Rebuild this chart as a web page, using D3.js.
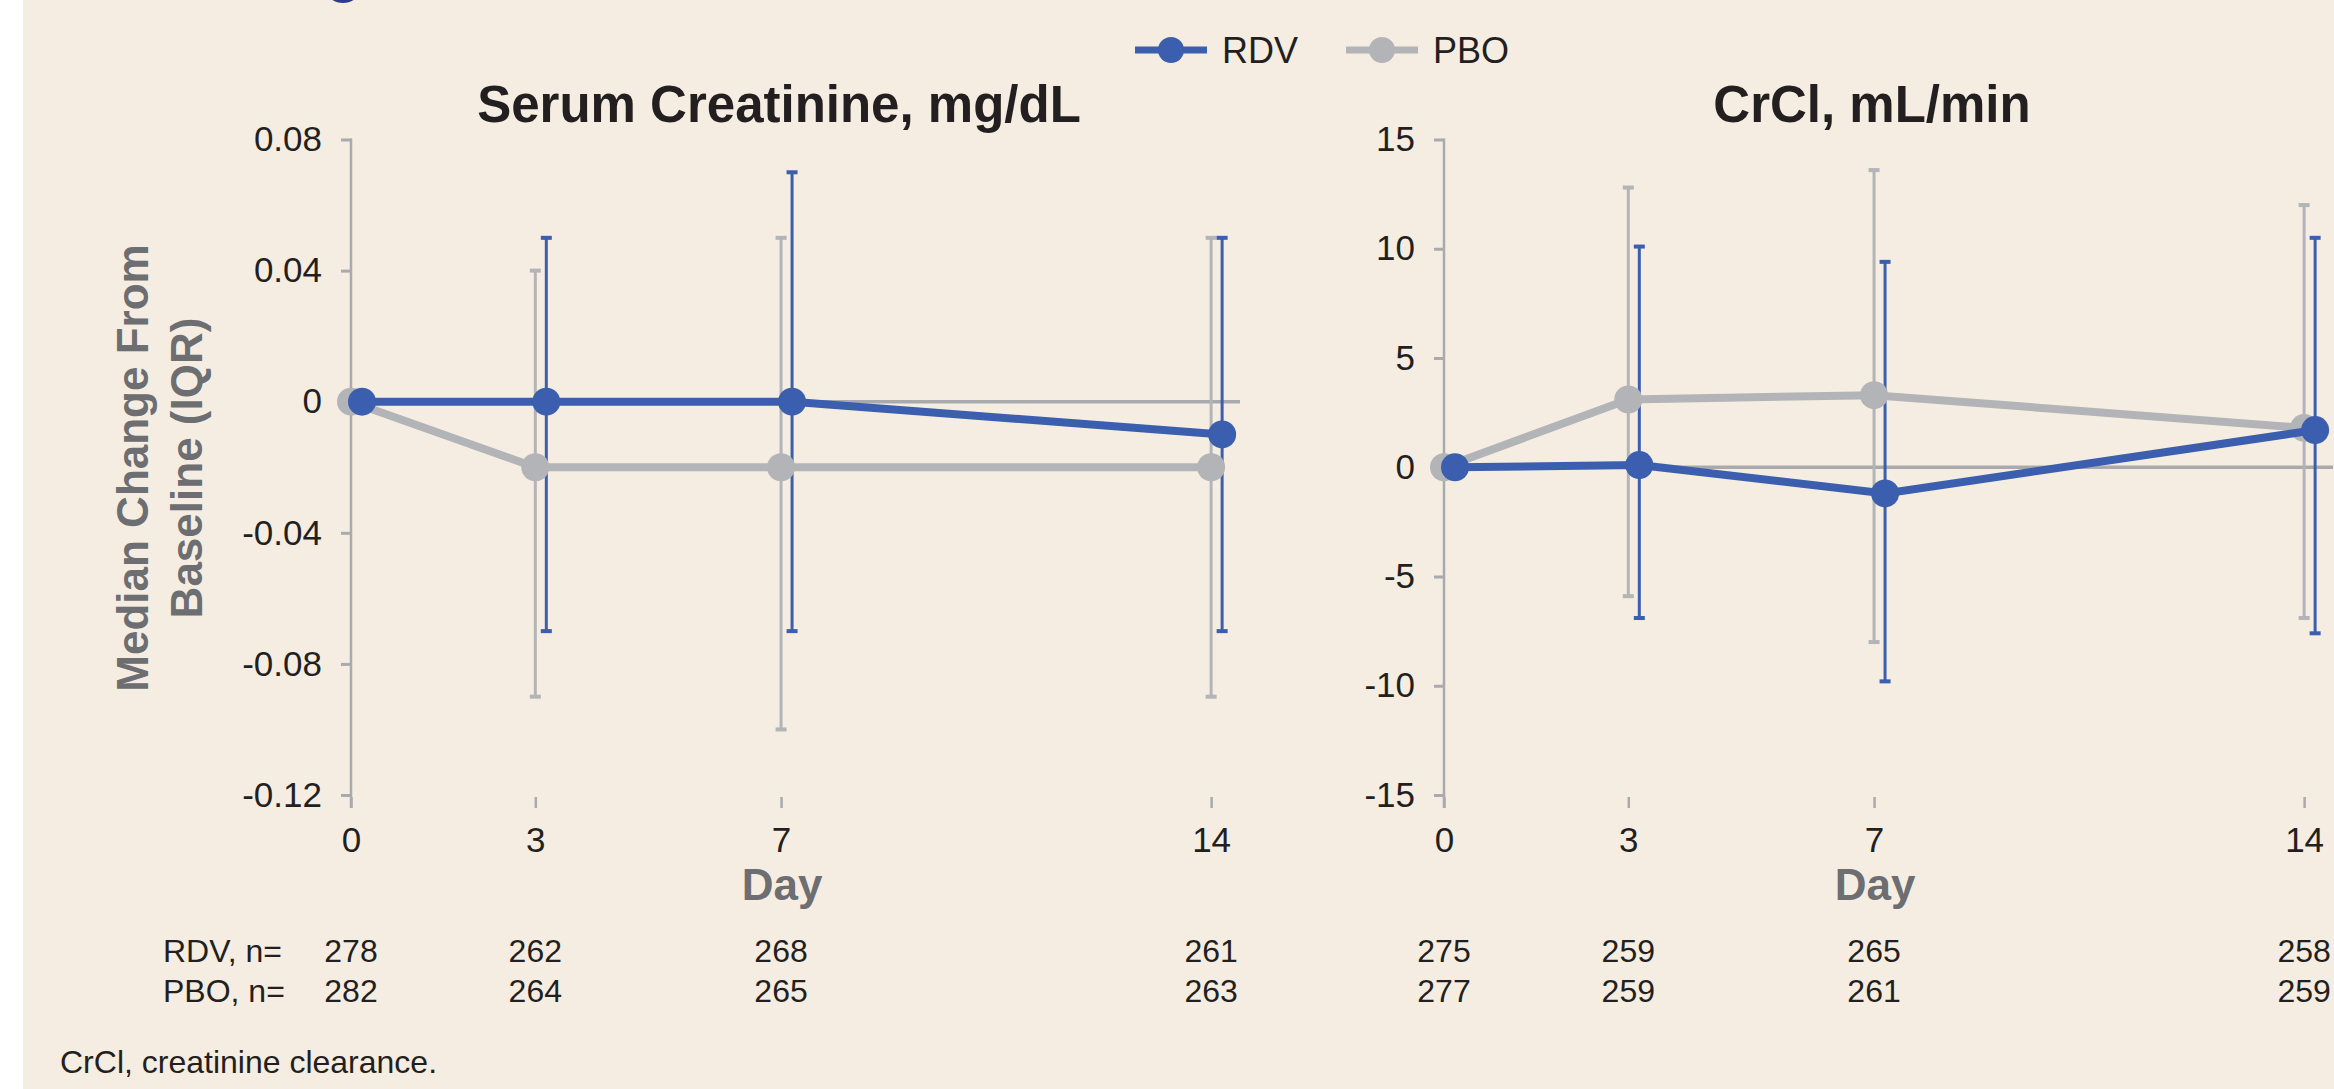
<!DOCTYPE html>
<html>
<head>
<meta charset="utf-8">
<script src="https://cdn.jsdelivr.net/npm/d3@7"></script>
<style>
  body { margin: 0; background: #fff; }
  svg { display: block; font-family: "Liberation Sans", Arial, sans-serif; }
</style>
</head>
<body>
<script>
// days on the x axis
var days = [0, 3, 7, 14];

// serum creatinine, median change and IQR (mg/dL)
var scrRdvMed = [0, 0, 0, -0.01];
var scrRdvQ1 = [0, -0.07, -0.07, -0.07];
var scrRdvQ3 = [0, 0.05, 0.07, 0.05];
var scrPboMed = [0, -0.02, -0.02, -0.02];
var scrPboQ1 = [0, -0.09, -0.10, -0.09];
var scrPboQ3 = [0, 0.04, 0.05, 0.05];

// creatinine clearance, median change and IQR (mL/min)
var crclRdvMed = [0, 0.1, -1.2, 1.7];
var crclRdvQ1 = [0, -6.9, -9.8, -7.6];
var crclRdvQ3 = [0, 10.1, 9.4, 10.5];
var crclPboMed = [0, 3.1, 3.3, 1.8];
var crclPboQ1 = [0, -5.9, -8.0, -6.9];
var crclPboQ3 = [0, 12.8, 13.6, 12.0];

// patients at each visit
var nRdvScr = [278, 262, 268, 261];
var nPboScr = [282, 264, 265, 263];
var nRdvCrcl = [275, 259, 265, 258];
var nPboCrcl = [277, 259, 261, 259];

var scrTicks = [-0.12, -0.08, -0.04, 0, 0.04, 0.08];
var crclTicks = [-15, -10, -5, 0, 5, 10, 15];

var BLUE = "#3b5fae", GREY = "#b3b4b7", AXIS = "#a9aaad", INK = "#231f20", LABEL = "#6d6e71";

var svg = d3.select("body").append("svg")
    .attr("width", 2334)
    .attr("height", 1089);

// slide background
svg.append("rect").attr("x", 23).attr("y", 0).attr("width", 2311).attr("height", 1089).attr("fill", "#f5ede1");
// bit of the cut-off heading above
svg.append("ellipse").attr("cx", 343).attr("cy", -7).attr("rx", 15).attr("ry", 10).attr("fill", "#2e3a8e");

function panel(left, title, yDomain, yTicks, fmt, rdv, pbo, nR, nP) {
    var x = d3.scaleLinear().domain([0, 14.47]).range([left, left + 889]);
    var y = d3.scaleLinear().domain(yDomain).range([795, 139.5]);
    var g = svg.append("g");

    g.append("text")
        .attr("x", left + 428).attr("y", 122)
        .attr("text-anchor", "middle")
        .attr("font-size", 51).attr("font-weight", "bold").attr("fill", INK)
        .text(title);

    // y axis
    var ya = g.append("g")
        .attr("transform", "translate(" + left + ",0)")
        .call(d3.axisLeft(y).tickValues(yTicks).tickSize(10).tickPadding(19).tickFormat(fmt));
    ya.select(".domain").remove();
    ya.selectAll("line").attr("stroke", AXIS).attr("stroke-width", 3);
    ya.selectAll("text").attr("font-size", 35).attr("fill", INK).attr("font-family", null);
    g.append("line")
        .attr("x1", left).attr("x2", left).attr("y1", y(yDomain[1]) - 1).attr("y2", 808)
        .attr("stroke", AXIS).attr("stroke-width", 2.5);

    // x axis, ticks only
    var xa = g.append("g")
        .attr("transform", "translate(0,797)")
        .call(d3.axisBottom(x).tickValues(days).tickSize(11).tickPadding(19).tickFormat(d3.format("d")));
    xa.select(".domain").remove();
    xa.selectAll("line").attr("stroke", AXIS).attr("stroke-width", 2.5);
    xa.selectAll("text").attr("font-size", 35).attr("fill", INK).attr("font-family", null);

    g.append("text")
        .attr("x", left + 431).attr("y", 900)
        .attr("text-anchor", "middle")
        .attr("font-size", 44).attr("font-weight", "bold").attr("fill", LABEL)
        .text("Day");

    // zero reference
    g.append("line")
        .attr("x1", left).attr("x2", x(14.47)).attr("y1", y(0)).attr("y2", y(0))
        .attr("stroke", AXIS).attr("stroke-width", 3.5);

    [pbo, rdv].forEach(function (s) {
        var pts = days.map(function (d, i) {
            return { px: x(d) + s.dx, med: s.med[i], q1: s.q1[i], q3: s.q3[i] };
        });
        var bars = pts.filter(function (p) { return p.q1 !== p.q3; });
        g.selectAll(null).data(bars).enter().append("line")
            .attr("x1", function (p) { return p.px; }).attr("x2", function (p) { return p.px; })
            .attr("y1", function (p) { return y(p.q1); }).attr("y2", function (p) { return y(p.q3); })
            .attr("stroke", s.color).attr("stroke-width", 3);
        [["q1"], ["q3"]].forEach(function (k) {
            g.selectAll(null).data(bars).enter().append("rect")
                .attr("x", function (p) { return p.px - 5.5; })
                .attr("y", function (p) { return y(p[k[0]]) - 2; })
                .attr("width", 11).attr("height", 4)
                .attr("fill", s.color);
        });
    });

    [pbo, rdv].forEach(function (s) {
        var pts = days.map(function (d, i) { return [x(d) + s.dx, y(s.med[i])]; });
        g.append("path")
            .attr("d", d3.line()(pts))
            .attr("fill", "none").attr("stroke", s.color).attr("stroke-width", 8);
        g.selectAll(null).data(pts).enter().append("circle")
            .attr("cx", function (p) { return p[0]; }).attr("cy", function (p) { return p[1]; })
            .attr("r", 14).attr("fill", s.color);
    });

    // n at risk
    [[nR, 962], [nP, 1002]].forEach(function (row) {
        g.selectAll(null).data(row[0]).enter().append("text")
            .attr("x", function (d, i) { return x(days[i]); })
            .attr("y", row[1])
            .attr("text-anchor", "middle")
            .attr("font-size", 32).attr("fill", INK)
            .text(function (d) { return d; });
    });
}

var fmtScr = function (d) { return d === 0 ? "0" : d.toFixed(2); };
var fmtCrcl = function (d) { return String(d); };

panel(351, "Serum Creatinine, mg/dL", [-0.12, 0.08], scrTicks, fmtScr,
    { med: scrRdvMed, q1: scrRdvQ1, q3: scrRdvQ3, color: BLUE, dx: 11 },
    { med: scrPboMed, q1: scrPboQ1, q3: scrPboQ3, color: GREY, dx: 0 },
    nRdvScr, nPboScr);

panel(1444, "CrCl, mL/min", [-15, 15], crclTicks, fmtCrcl,
    { med: crclRdvMed, q1: crclRdvQ1, q3: crclRdvQ3, color: BLUE, dx: 11 },
    { med: crclPboMed, q1: crclPboQ1, q3: crclPboQ3, color: GREY, dx: 0 },
    nRdvCrcl, nPboCrcl);

// y axis title, two lines
["Median Change From", "Baseline (IQR)"].forEach(function (t, i) {
    svg.append("text")
        .attr("transform", "translate(" + (148 + i * 54) + ",468) rotate(-90)")
        .attr("text-anchor", "middle")
        .attr("font-size", 44).attr("font-weight", "bold").attr("fill", LABEL)
        .text(t);
});

// row labels for n
svg.append("text").attr("x", 163).attr("y", 962).attr("font-size", 32).attr("fill", INK).text("RDV, n=");
svg.append("text").attr("x", 163).attr("y", 1002).attr("font-size", 32).attr("fill", INK).text("PBO, n=");

// legend
var legend = [{ name: "RDV", color: BLUE, x: 1135 }, { name: "PBO", color: GREY, x: 1346 }];
var lg = svg.selectAll("g.legend").data(legend).enter().append("g")
    .attr("class", "legend")
    .attr("transform", function (d) { return "translate(" + d.x + ",50)"; });
lg.append("line").attr("x1", 0).attr("x2", 72).attr("stroke", function (d) { return d.color; }).attr("stroke-width", 7);
lg.append("circle").attr("cx", 36).attr("r", 13).attr("fill", function (d) { return d.color; });
lg.append("text").attr("x", 87).attr("y", 13).attr("font-size", 36).attr("fill", INK).text(function (d) { return d.name; });

svg.append("text").attr("x", 60).attr("y", 1073).attr("font-size", 32).attr("fill", INK)
    .text("CrCl, creatinine clearance.");
</script>
</body>
</html>
